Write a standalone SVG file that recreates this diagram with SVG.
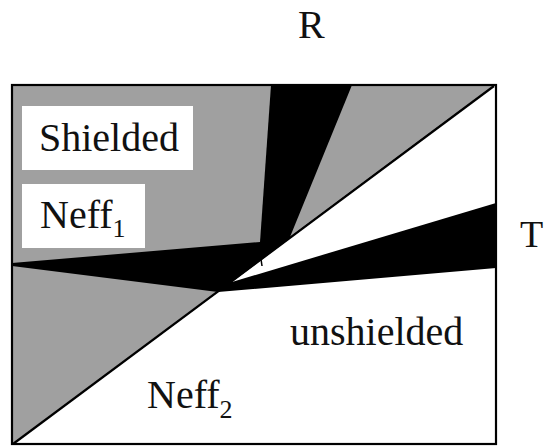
<svg xmlns="http://www.w3.org/2000/svg" width="545" height="446" viewBox="0 0 545 446">
  <style>
    .gray { fill: #a0a0a0; }
    .black { fill: #000000; }
    .white { fill: #ffffff; }
    .lbl { font-family: "Liberation Serif", "Times New Roman", serif; font-size: 40px; fill: #111; }
    .sub { font-family: "Liberation Serif", "Times New Roman", serif; font-size: 26px; fill: #111; }
    .edge { fill: none; stroke: #000; stroke-width: 2.2; }
  </style>
  <rect x="0" y="0" width="545" height="446" fill="#ffffff"/>

  <!-- phase regions inside the frame -->
  <g id="regions">
    <rect class="black" x="12" y="85" width="484" height="359"/>
    <!-- shielded, Neff1 (upper left) -->
    <polygon class="gray" points="12,85 271,85 260,242 12,263"/>
    <!-- shielded wedge under the diagonal top -->
    <polygon class="gray" points="352,85 494,85 290,237"/>
    <!-- unshielded wedge above the right band -->
    <polygon class="white" points="232,282 494,85 496,85 496,203"/>
    <!-- unshielded region (lower right) -->
    <polygon class="white" points="218,292 496,268 496,444 13,444"/>
    <!-- Neff2 (lower left) -->
    <polygon class="gray" points="12,266 218,292 13,444 12,444"/>
    <!-- small notch on the wedge tip -->
    <line x1="261" y1="259" x2="262" y2="266" stroke="#000" stroke-width="1.5"/>
  </g>

  <!-- frame and boundary line -->
  <g id="connectors">
    <rect class="edge" x="12" y="85" width="484" height="359"/>
    <line class="edge" x1="13" y1="444" x2="494" y2="86"/>
  </g>

  <g id="shielded">
    <rect class="white" x="22" y="106" width="171" height="64"/>
    <text class="lbl" x="39" y="151">Shielded</text>
  </g>

  <g id="neff1">
    <rect class="white" x="22" y="184" width="123" height="64"/>
    <text class="lbl" x="40" y="228">Neff<tspan class="sub" dy="9">1</tspan></text>
  </g>

  <g id="unshielded">
    <text class="lbl" x="290" y="345">unshielded</text>
  </g>

  <g id="neff2">
    <text class="lbl" x="147" y="408">Neff<tspan class="sub" dy="10">2</tspan></text>
  </g>

  <g id="axis-R">
    <text class="lbl" x="298" y="38">R</text>
  </g>

  <g id="axis-T">
    <text class="lbl" x="520" y="247" style="font-size:38px">T</text>
  </g>
</svg>
